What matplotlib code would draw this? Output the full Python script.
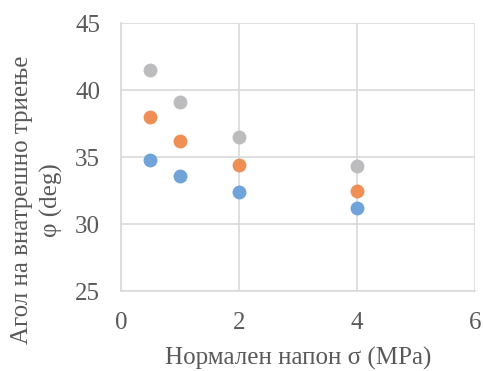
import matplotlib
matplotlib.use("Agg")
import matplotlib.pyplot as plt

# data
sigma = [0.5, 1, 2, 4]
phi_blue = [34.8, 33.6, 32.4, 31.2]
phi_orange = [38.0, 36.2, 34.4, 32.5]
phi_gray = [41.5, 39.1, 36.5, 34.3]

x_ticks = [0, 2, 4, 6]
y_ticks = [25, 30, 35, 40, 45]

plt.rcParams['font.family'] = ['Liberation Serif', 'DejaVu Serif']

fig = plt.figure(figsize=(4.83, 3.71), dpi=100)
ax = fig.add_axes([0.2505, 0.2156, 0.7329, 0.7224])

ms = 100
ax.scatter(sigma, phi_blue, s=ms, color='#6FA3DA', zorder=3, linewidths=0)
ax.scatter(sigma, phi_orange, s=ms, color='#F08F55', zorder=3, linewidths=0)
ax.scatter(sigma, phi_gray, s=ms, color='#BCBCBF', zorder=3, linewidths=0)

ax.set_xlim(0, 6)
ax.set_ylim(25, 45)
ax.set_xticks(x_ticks)
ax.set_yticks(y_ticks)
ax.grid(True, color='#D9D9D9', linewidth=1.2)
ax.set_axisbelow(True)
for side in ['top', 'right']:
    ax.spines[side].set_visible(False)
for side in ['left', 'bottom']:
    ax.spines[side].set_color('#D9D9D9')
    ax.spines[side].set_linewidth(1.2)
ax.tick_params(length=0, labelsize=18, labelcolor='#595959', pad=15)

fig.text(0.617, 0.035, 'Нормален напон σ (MPa)', ha='center', va='center',
         fontsize=18, color='#595959')
fig.text(0.076, 0.461, 'Агол на внатрешно триење\nφ (deg)', ha='center', va='center',
         rotation=90, fontsize=18, color='#595959', multialignment='center',
         linespacing=1.4)

fig.savefig('out.png', dpi=100)
